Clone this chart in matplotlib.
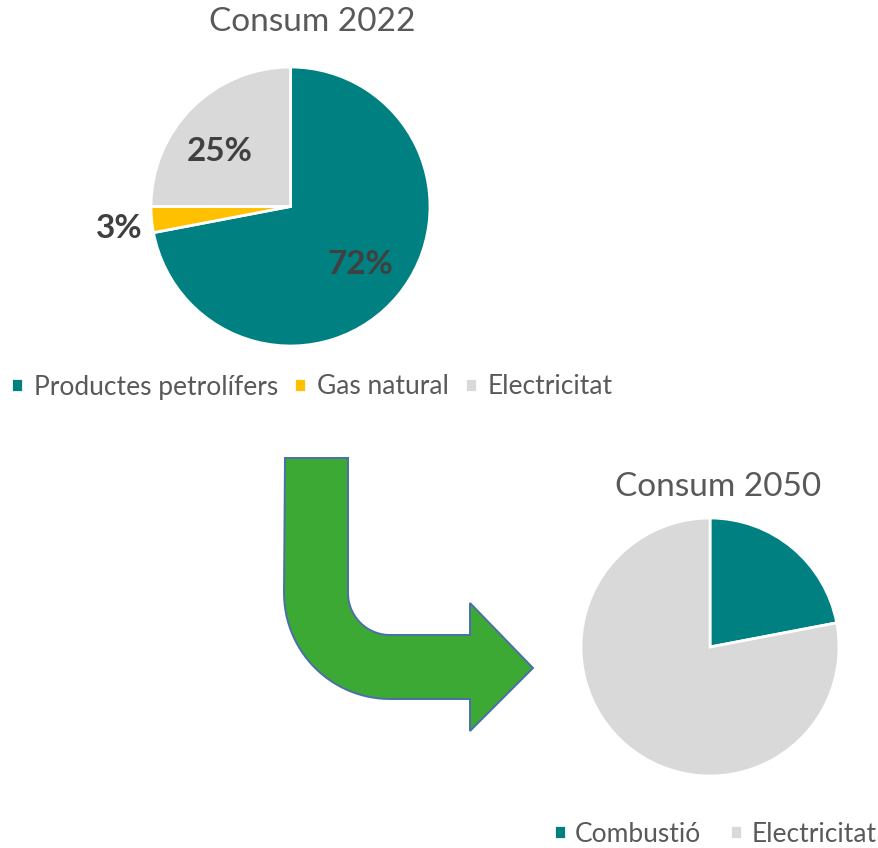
import numpy as np
import matplotlib.pyplot as plt
from matplotlib.path import Path
from matplotlib.patches import PathPatch

plt.rcParams['font.family'] = ['Lato', 'DejaVu Sans']

# --- dades ---
cat_2022 = ['Productes petrolífers', 'Gas natural', 'Electricitat']
val_2022 = [72, 3, 25]
col_2022 = ['#008080', '#FFC000', '#D9D9D9']

cat_2050 = ['Combustió', 'Electricitat']
val_2050 = [22, 78]
col_2050 = ['#008080', '#D9D9D9']

W, H = 879, 848
TXT = '#595959'
LBL = '#404040'

fig = plt.figure(figsize=(W / 100, H / 100), dpi=100)
ax = fig.add_axes([0, 0, 1, 1])

# pastís 2022 (coordenades en píxels, y cap amunt)
c1, r1 = (290.5, H - 206.5), 139.5
wedges1, _, pct1 = ax.pie(val_2022, colors=col_2022, startangle=90, counterclock=False,
                          center=c1, radius=r1,
                          autopct='%.0f%%', pctdistance=0.65,
                          wedgeprops=dict(edgecolor='white', linewidth=2),
                          textprops=dict(color=LBL, fontsize=24, fontweight='bold'))


def place(i, dist, dang):
    w = wedges1[i]
    mid = np.deg2rad((w.theta1 + w.theta2) / 2 + dang)
    pct1[i].set_position((c1[0] + dist * r1 * np.cos(mid), c1[1] + dist * r1 * np.sin(mid)))


# etiquetes com a l'original (la petita fora del pastís)
place(1, 1.24, 2)
place(2, 0.64, 7)

# pastís 2050
wedges2, _ = ax.pie(val_2050, colors=col_2050, startangle=90, counterclock=False,
                    center=(710, H - 647), radius=129,
                    wedgeprops=dict(edgecolor='white', linewidth=2))

ax.set_xlim(0, W)
ax.set_ylim(0, H)
ax.set_aspect('auto')
ax.axis('off')

ax.text(312, H - 22, 'Consum 2022', ha='center', va='center', fontsize=24, color=TXT)
ax.text(718, H - 487, 'Consum 2050', ha='center', va='center', fontsize=24, color=TXT)

fig.legend(wedges1, cat_2022, loc='center', bbox_to_anchor=(312 / W, 1 - 387 / H), ncol=3,
           frameon=False, fontsize=19, labelcolor=TXT, handlelength=0.45, handleheight=0.45,
           handletextpad=0.42, columnspacing=0.6, borderpad=0)
fig.legend(wedges2, cat_2050, loc='center', bbox_to_anchor=(715 / W, 1 - 834 / H), ncol=2,
           frameon=False, fontsize=19, labelcolor=TXT, handlelength=0.45, handleheight=0.45,
           handletextpad=0.35, columnspacing=1.1, borderpad=0)

# fletxa corba verda
cx, cy = 390, H - 593
r_in, r_out = 42, 106
a_in = np.linspace(np.pi, 1.5 * np.pi, 30)
a_out = np.linspace(1.5 * np.pi, np.pi, 30)
pts = [(285, H - 458), (348, H - 458), (348, cy)]
pts += [(cx + r_in * np.cos(a), cy + r_in * np.sin(a)) for a in a_in]
pts += [(470, cy - r_in), (470, H - 603), (533, H - 668), (470, H - 731), (470, cy - r_out)]
pts += [(cx + r_out * np.cos(a), cy + r_out * np.sin(a)) for a in a_out]
pts += [(285, H - 458)]
codes = [Path.MOVETO] + [Path.LINETO] * (len(pts) - 2) + [Path.CLOSEPOLY]
ax.add_patch(PathPatch(Path(pts, codes), facecolor='#3DA935', edgecolor='#4A6FA8', linewidth=1.4))

plt.savefig('out.png', dpi=100)
